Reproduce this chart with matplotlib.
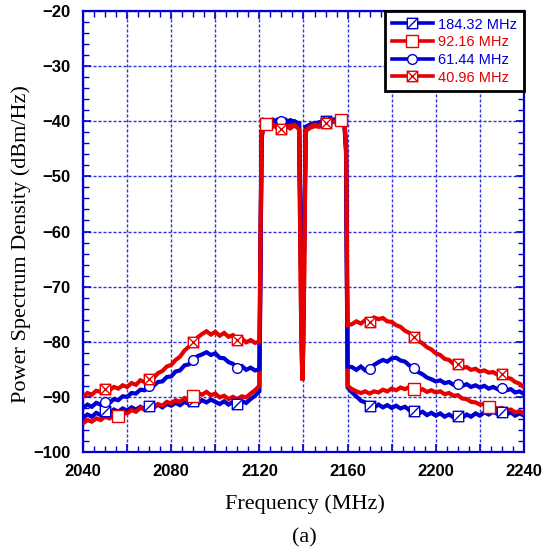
import numpy as np
import matplotlib
matplotlib.use("Agg")
import matplotlib.pyplot as plt
from matplotlib.path import Path
from matplotlib.ticker import MultipleLocator
from matplotlib.lines import Line2D

# ---------------- data ----------------
freq_left = np.arange(2040, 2119, 2)          # 2040 .. 2118
freq_band = [2120.0, 2121.0, 2122, 2124, 2126, 2128, 2130, 2132, 2134, 2136, 2138,
             2139.0, 2139.5, 2140.0, 2141, 2143, 2145, 2147, 2149, 2151, 2153,
             2155, 2157, 2158.5, 2159.3, 2160.0]
freq_right = np.arange(2162, 2241, 2)         # 2162 .. 2240

labels = ["184.32 MHz", "92.16 MHz", "61.44 MHz", "40.96 MHz"]

psd_184_left = [-93.8, -93.2, -93.6, -92.9, -93.3, -92.6, -92.9, -92.3, -92.7, -92.1,
                -92.5, -91.9, -92.3, -91.8, -92.2, -91.7, -92.0, -91.4, -91.9, -91.3,
                -91.6, -91.1, -91.5, -90.9, -91.3, -90.8, -91.2, -90.6, -91.0, -90.5,
                -90.9, -91.3, -90.8, -91.4, -90.9, -91.3, -90.8, -91.1, -90.4, -89.8]
psd_184_band = [-89.0, -43, -40.3, -39.8, -40.2, -40.0, -40.4, -39.9, -40.2, -40.0, -40.5,
                -70, -84.5, -70, -41.0, -40.6, -40.3, -40.4, -40.0, -39.9, -39.7, -39.8,
                -39.6, -39.9, -45, -88.3]
psd_184_right = [-89.2, -89.9, -90.7, -91.0, -91.6, -91.9, -91.4, -91.9, -91.5, -92.0,
                 -91.6, -92.1, -91.8, -92.4, -92.6, -93.0, -92.7, -93.3, -92.9, -93.4,
                 -93.0, -93.6, -93.2, -93.7, -93.4, -93.8, -93.2, -93.6, -93.0, -93.4,
                 -92.8, -93.2, -92.7, -93.1, -92.7, -93.2, -92.8, -93.4, -93.0, -93.4]

psd_92_left = [-94.8, -94.2, -94.5, -93.9, -94.2, -93.6, -93.9, -93.3, -93.5, -92.9,
               -93.0, -92.4, -92.7, -92.0, -92.3, -91.7, -91.9, -91.3, -91.6, -90.9,
               -91.2, -90.6, -90.9, -90.2, -90.5, -89.8, -89.3, -89.6, -89.1, -89.7,
               -89.4, -90.1, -89.8, -90.4, -90.0, -90.4, -89.9, -90.1, -89.4, -88.8]
psd_92_band = [-88.0, -43, -40.8, -40.3, -41.0, -40.5, -41.2, -40.6, -41.0, -40.4, -41.3,
               -78, -87, -78, -41.8, -41.2, -40.9, -41.0, -40.5, -40.3, -40.0, -40.2,
               -39.8, -40.1, -46, -88.0]
psd_92_right = [-88.6, -89.0, -89.3, -89.0, -89.4, -89.0, -89.2, -88.7, -89.0, -88.5,
                -88.8, -88.3, -88.6, -88.2, -88.5, -88.9, -88.6, -89.1, -88.8, -89.2,
                -89.0, -89.5, -89.3, -89.8, -89.7, -90.3, -90.4, -90.9, -91.0, -91.4,
                -91.3, -91.8, -91.7, -92.2, -92.0, -92.5, -92.3, -92.8, -92.6, -93.0]

psd_61_left = [-92.0, -91.4, -91.8, -91.1, -91.4, -90.9, -91.1, -90.4, -90.6, -89.9,
               -90.0, -89.3, -89.4, -88.7, -88.8, -88.1, -88.0, -87.3, -87.2, -86.4,
               -86.3, -85.4, -85.2, -84.3, -84.1, -83.4, -82.6, -82.3, -81.9, -82.4,
               -82.1, -82.9, -83.0, -83.7, -84.0, -84.7, -84.4, -85.1, -84.7, -85.2]
psd_61_band = [-85.0, -42, -39.8, -40.2, -39.7, -40.1, -39.9, -40.3, -39.8, -40.1, -40.4,
               -70, -84.5, -70, -41.2, -40.7, -40.4, -40.2, -39.9, -40.1, -39.8, -39.6,
               -39.7, -39.9, -45, -84.5]
psd_61_right = [-84.6, -85.1, -84.5, -85.2, -84.9, -84.2, -83.7, -83.3, -83.6, -83.0,
                -82.9, -83.4, -83.6, -84.3, -84.7, -85.5, -85.9, -86.5, -86.8, -87.2,
                -87.0, -87.5, -87.3, -87.8, -87.6, -88.0, -87.7, -88.2, -87.9, -88.3,
                -88.0, -88.5, -88.2, -88.6, -88.3, -88.8, -88.6, -89.2, -89.0, -89.5]

psd_40_left = [-90.0, -89.3, -89.6, -88.9, -89.1, -88.5, -88.8, -88.2, -88.5, -87.9,
               -88.2, -87.5, -87.8, -87.0, -87.3, -86.7, -86.6, -85.7, -85.3, -84.5,
               -84.2, -83.3, -82.7, -81.6, -80.9, -80.1, -79.2, -78.6, -78.1, -78.7,
               -78.2, -78.9, -78.4, -79.1, -78.8, -79.6, -79.4, -80.1, -79.7, -80.2]
psd_40_band = [-80.0, -42, -40.8, -41.3, -40.6, -41.2, -41.4, -40.9, -41.3, -40.7, -41.5,
               -80, -87, -80, -41.6, -41.0, -40.6, -40.9, -40.2, -40.4, -40.0, -40.3,
               -39.9, -40.3, -44, -77.0]
psd_40_right = [-76.8, -76.3, -76.7, -76.1, -76.4, -75.6, -75.9, -75.7, -76.3, -76.4,
                -77.0, -77.3, -78.0, -78.4, -79.1, -79.8, -80.3, -81.0, -81.4, -82.1,
                -82.4, -83.1, -83.3, -84.0, -84.1, -84.7, -84.6, -85.1, -84.9, -85.4,
                -85.2, -85.6, -85.5, -86.0, -85.9, -86.5, -86.7, -87.3, -87.6, -88.3]

markers_184 = [2050, 2070, 2090, 2110, 2130, 2150, 2170, 2190, 2210, 2230]
markers_92 = [2056, 2090, 2123, 2157, 2190, 2224]
markers_61 = [2050, 2070, 2090, 2110, 2130, 2150, 2170, 2190, 2210, 2230]
markers_40 = [2050, 2070, 2090, 2110, 2130, 2150, 2170, 2190, 2210, 2230]

x_ticks = [2040, 2080, 2120, 2160, 2200, 2240]
y_ticks = [-100, -90, -80, -70, -60, -50, -40, -30, -20]

# ---------------- style ----------------
BLUE = "#0000d2"
RED = "#e60000"
GRID_BLUE = "#3030e0"

sq = [(-1, -1), (1, -1), (1, 1), (-1, 1), (-1, -1)]
sq_codes = [Path.MOVETO, Path.LINETO, Path.LINETO, Path.LINETO, Path.CLOSEPOLY]
m_diag = Path(sq + [(-1, -1), (1, 1)], sq_codes + [Path.MOVETO, Path.LINETO])
m_cross = Path(sq + [(-1, -1), (1, 1), (-1, 1), (1, -1)],
               sq_codes + [Path.MOVETO, Path.LINETO, Path.MOVETO, Path.LINETO])

freq = np.concatenate([freq_left, np.array(freq_band, float), freq_right])
series = [
    (np.array(psd_184_left + psd_184_band + psd_184_right), markers_184, BLUE, m_diag, 7.5),
    (np.array(psd_92_left + psd_92_band + psd_92_right), markers_92, RED, "s", 8.0),
    (np.array(psd_61_left + psd_61_band + psd_61_right), markers_61, BLUE, "o", 7.0),
    (np.array(psd_40_left + psd_40_band + psd_40_right), markers_40, RED, m_cross, 7.5),
]

fig = plt.figure(figsize=(5.45, 5.55), dpi=100)
ax = fig.add_axes([83 / 545, 1 - 452 / 555, 441 / 545, 441 / 555])

handles = []
for (vals, mk_x, col, mk, ms), lab in zip(series, labels):
    ax.plot(freq, vals, color=col, lw=3.0, solid_joinstyle="miter", zorder=3)
    mk_y = np.interp(mk_x, freq, vals)
    ax.plot(mk_x, mk_y, linestyle="none", marker=mk, ms=ms, mfc="white",
            mec=col, mew=1.0, zorder=4)
    handles.append(Line2D([], [], color=col, lw=2.6, marker=mk, ms=ms,
                          mfc="white", mec=col, mew=1.0, label=lab))

ax.set_xlim(2040, 2240)
ax.set_ylim(-100, -20)
grid_x = np.arange(2040, 2241, 20)
ax.set_xticks(grid_x)
ax.set_xticklabels([str(t) if t in x_ticks else "" for t in grid_x])
ax.set_yticks(y_ticks)
ax.xaxis.set_minor_locator(MultipleLocator(5))
ax.yaxis.set_minor_locator(MultipleLocator(2))

ax.grid(True, which="major", color=GRID_BLUE, lw=1.0, linestyle=(0, (2.2, 1.4)))
ax.set_axisbelow(True)

for s in ax.spines.values():
    s.set_color(BLUE)
    s.set_linewidth(1.6)

ax.tick_params(which="both", direction="in", top=True, right=True, color=BLUE,
               labelcolor="black")
ax.tick_params(which="major", length=6, width=1.2, pad=9)
ax.tick_params(which="minor", length=4, width=1.0)
for lbl in ax.get_xticklabels() + ax.get_yticklabels():
    lbl.set_fontfamily("Liberation Sans")
    lbl.set_fontweight("bold")
    lbl.set_fontsize(12)

leg = ax.legend(handles=handles, loc="upper right", bbox_to_anchor=(1.0, 1.0),
                borderaxespad=0.0, fancybox=False, framealpha=1, edgecolor="black",
                prop={"family": "Liberation Sans", "size": 10.5},
                handlelength=2.8, handletextpad=0.4, labelspacing=0.25,
                borderpad=0.45, numpoints=1)
leg.get_frame().set_linewidth(2.0)
for txt, (vals, mk_x, col, mk, ms) in zip(leg.get_texts(), series):
    txt.set_color(col)
leg.set_zorder(10)

fig.text(305 / 545, 1 - 504 / 555, "Frequency (MHz)", family="Liberation Serif",
         fontsize=16, ha="center", va="center")
fig.text(21 / 545, 1 - 244 / 555, "Power Spectrum Density (dBm/Hz)",
         family="Liberation Serif", fontsize=16, ha="center", va="center",
         rotation=90)
fig.text(304 / 545, 1 - 538 / 555, "(a)", family="Liberation Serif",
         fontsize=16, ha="center", va="center")

fig.savefig("out.png", dpi=100)
